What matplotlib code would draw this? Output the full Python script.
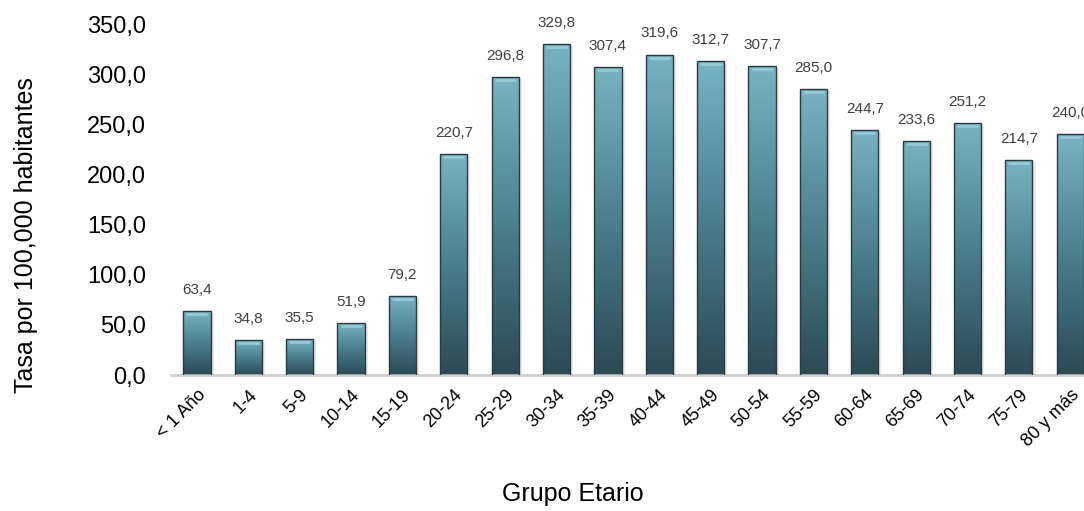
import matplotlib.pyplot as plt
import numpy as np
from matplotlib.colors import LinearSegmentedColormap

plt.rcParams['font.family'] = ['Liberation Sans', 'DejaVu Sans']

# 年齡組別與每十萬人口比率
grupos = ['< 1 Año', '1-4', '5-9', '10-14', '15-19', '20-24', '25-29', '30-34',
          '35-39', '40-44', '45-49', '50-54', '55-59', '60-64', '65-69', '70-74',
          '75-79', '80 y más']
tasas = [63.4, 34.8, 35.5, 51.9, 79.2, 220.7, 296.8, 329.8, 307.4, 319.6,
         312.7, 307.7, 285.0, 244.7, 233.6, 251.2, 214.7, 240.0]
yticks = [0, 50, 100, 150, 200, 250, 300, 350]

fig = plt.figure(figsize=(10.84, 5.11), dpi=100)
ax = fig.add_axes([0.158, 0.266, 0.853, 0.687])

x = np.arange(len(grupos))
ancho = 0.53

# 漸層色 (上淺下深)
cmap = LinearSegmentedColormap.from_list('teal', ['#2b4a54', '#4a7f8e', '#78b3c3'])
grad = np.linspace(0, 1, 256).reshape(-1, 1)

# 陰影
ax.bar(x + 0.06, tasas, ancho, bottom=-2, color='#d8d8d8', alpha=0.5,
       edgecolor='none', zorder=1)

barras = ax.bar(x, tasas, ancho, color='none', edgecolor='#2a3a40', lw=1.0, zorder=3)
for b, v in zip(barras, tasas):
    x0 = b.get_x()
    im = ax.imshow(grad, cmap=cmap, aspect='auto', origin='lower',
                   extent=[x0, x0 + ancho, 0, v], zorder=2)
    im.set_clip_path(b)
    # 頂端亮光
    ax.plot([x0 + 0.08, x0 + ancho - 0.08], [v - 3, v - 3], color='#9fd0dc',
            lw=2, alpha=0.8, solid_capstyle='round', zorder=2.5)
    ax.text(b.get_x() + ancho / 2, v + 14, f'{v:.1f}'.replace('.', ','),
            ha='center', va='bottom', fontsize=11, color='#404040')

ax.set_xlim(-0.5, len(grupos) - 0.5)
ax.set_ylim(0, 350)
ax.set_yticks(yticks)
ax.set_yticklabels([f'{t:.1f}'.replace('.', ',') for t in yticks], fontsize=17)
ax.tick_params(axis='y', length=0, pad=18)
ax.tick_params(axis='x', length=0, pad=8)
ax.set_xticks(x)
ax.set_xticklabels(grupos, rotation=45, ha='right', rotation_mode='anchor',
                   fontsize=13)

for s in ['top', 'right', 'left']:
    ax.spines[s].set_visible(False)
ax.spines['bottom'].set_color('#d0d0d0')
ax.spines['bottom'].set_linewidth(2)

fig.text(0.024, 0.54, 'Tasa por 100,000 habitantes', rotation=90,
         ha='center', va='center', fontsize=18)
fig.text(0.528, 0.01, 'Grupo Etario', ha='center', va='bottom', fontsize=18)

fig.savefig('out.png', dpi=100)
